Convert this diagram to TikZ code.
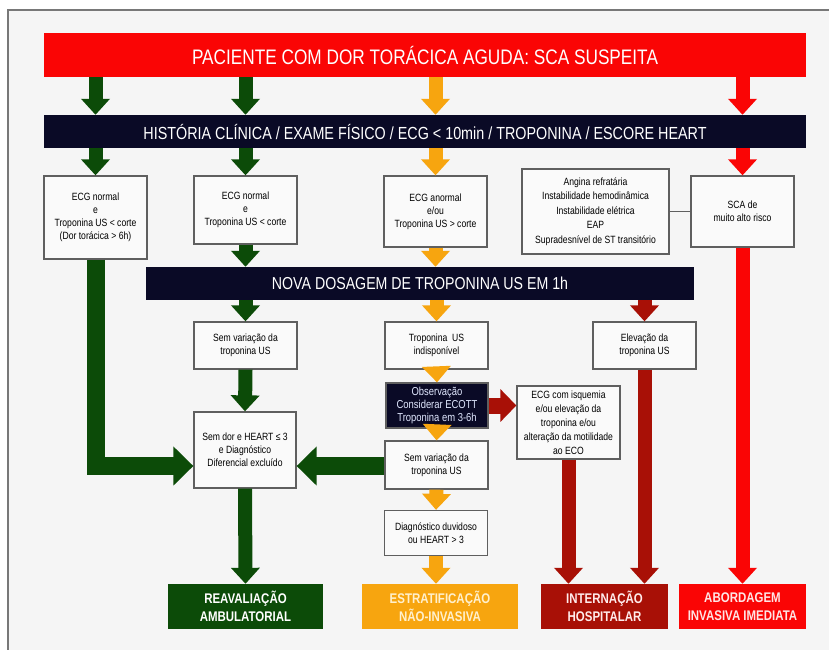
\documentclass[tikz,border=0pt]{standalone}
\usepackage{fontspec}
\setmainfont{Liberation Sans}[FakeStretch=0.82]
\usetikzlibrary{arrows.meta}
\definecolor{cRed}{RGB}{250,5,5}
\definecolor{cGreen}{RGB}{12,75,8}
\definecolor{cOrange}{RGB}{247,165,15}
\definecolor{cDRed}{RGB}{168,16,6}
\definecolor{cNavy}{RGB}{10,10,38}
\definecolor{cBg}{RGB}{245,245,245}
\definecolor{cFrame}{RGB}{120,120,120}
\definecolor{cBorder}{RGB}{95,95,95}
\definecolor{cBoxFill}{RGB}{250,250,250}
\definecolor{cCream}{RGB}{255,240,205}
\definecolor{cLightBlue}{RGB}{225,232,255}
\tikzset{
  box/.style={draw=cBorder, line width=1.3pt, fill=cBoxFill, inner sep=0pt, align=center,
    font=\fontsize{10.5}{13}\selectfont, text=black},
  bar/.style={inner sep=0pt, align=center, text=white},
  endbox/.style={inner sep=0pt, align=center, font=\fontsize{14}{18}\selectfont\bfseries},
  arr/.style={line width=14pt, -{Triangle[width=28pt,length=16pt]}},
  bigarr/.style={line width=18pt, -{Triangle[width=38pt,length=20pt]}},
}
\begin{document}
\begin{tikzpicture}[x=1pt,y=-1pt]
\useasboundingbox (0,0) rectangle (829,649);
\fill[white] (0,0) rectangle (829,649);
\draw[cFrame, line width=1.3pt, fill=cBg] (8,10) rectangle (850,670);

% bars
\node[bar, fill=cRed, minimum width=762pt, minimum height=44pt, font=\fontsize{21}{24}\selectfont] (title) at (425,55) {PACIENTE COM DOR TORÁCICA AGUDA: SCA SUSPEITA};
\node[bar, fill=cNavy, minimum width=762pt, minimum height=33pt, font=\fontsize{17.5}{20}\selectfont] (hist) at (425,131.5) {HISTÓRIA CLÍNICA / EXAME FÍSICO / ECG < 10min / TROPONINA / ESCORE HEART};

% first row of boxes
\node[box, minimum width=103pt, minimum height=83pt] (b1) at (95.5,217.5) {ECG normal\\e\\Troponina US < corte\\(Dor torácica > 6h)};
\node[box, minimum width=103pt, minimum height=68pt] (b2) at (245.5,210) {ECG normal\\e\\Troponina US < corte};
\node[box, minimum width=103pt, minimum height=71pt] (b3) at (435.5,211.5) {ECG anormal\\e/ou\\Troponina US > corte};
\node[box, minimum width=147pt, minimum height=85pt, font=\fontsize{10.5}{14.5}\selectfont] (b4) at (595.5,211.5) {Angina refratária\\Instabilidade hemodinâmica\\Instabilidade elétrica\\EAP\\Supradesnível de ST transitório};
\node[box, minimum width=103pt, minimum height=71pt] (b5) at (742.5,211.5) {SCA de\\muito alto risco};
\draw[cBorder, line width=1.2pt] (b4.east) -- (b5.west);

\node[bar, fill=cNavy, minimum width=548pt, minimum height=33pt, font=\fontsize{17.3}{20}\selectfont] (nova) at (420,283.5) {NOVA DOSAGEM DE TROPONINA US EM 1h};

% second level
\node[box, minimum width=103pt, minimum height=47pt] (s1) at (245.5,345.5) {Sem variação da\\troponina US};
\node[box, minimum width=103pt, minimum height=47pt] (tind) at (436.5,345.5) {Troponina\ \ US\\indisponível};
\node[box, minimum width=103pt, minimum height=47pt] (elev) at (644.5,345.5) {Elevação da\\troponina US};
\node[box, fill=cNavy, text=cLightBlue, minimum width=102pt, minimum height=45pt, font=\fontsize{11.5}{13}\selectfont] (obs) at (437,405.5) {Observação\\Considerar ECOTT\\Troponina em 3-6h};
\node[box, minimum width=103pt, minimum height=73pt, font=\fontsize{10.5}{14}\selectfont] (isq) at (568.5,422.5) {ECG com isquemia\\e/ou elevação da\\troponina e/ou\\alteração da motilidade\\ao ECO};
\node[box, minimum width=102pt, minimum height=76pt] (semdor) at (245,450) {Sem dor e HEART ≤ 3\\e Diagnóstico\\Diferencial excluído};
\node[box, minimum width=103pt, minimum height=48pt] (s2) at (436.5,465) {Sem variação da\\troponina US};
\node[box, minimum width=103pt, minimum height=45pt] (diag) at (436,533) {Diagnóstico duvidoso\\ou HEART > 3};

% end boxes
\node[endbox, fill=cGreen, text=white, minimum width=155pt, minimum height=45pt] (reav) at (245.5,606.5) {REAVALIAÇÃO\\AMBULATORIAL};
\node[endbox, fill=cOrange, text=cCream, minimum width=156pt, minimum height=45pt] (estr) at (440,606.5) {ESTRATIFICAÇÃO\\NÃO-INVASIVA};
\node[endbox, fill=cDRed, text=white!92!red, minimum width=127pt, minimum height=45pt] (intern) at (604.5,606.5) {INTERNAÇÃO\\HOSPITALAR};
\node[endbox, fill=cRed, text=white!90!red, minimum width=127pt, minimum height=45pt] (abord) at (742.5,606.5) {ABORDAGEM\\INVASIVA IMEDIATA};

% arrows title -> hist
\draw[arr, cGreen] (title.south -| b1.north) -- (hist.north -| b1.north);
\draw[arr, cGreen] (title.south -| b2.north) -- (hist.north -| b2.north);
\draw[arr, cOrange] (title.south -| b3.north) -- (hist.north -| b3.north);
\draw[arr, cRed] (title.south -| b5.north) -- (hist.north -| b5.north);
% hist -> boxes
\draw[arr, cGreen] (hist.south -| b1.north) -- (b1.north);
\draw[arr, cGreen] (hist.south -| b2.north) -- (b2.north);
\draw[arr, cOrange] (hist.south -| b3.north) -- (b3.north);
\draw[arr, cRed] (hist.south -| b5.north) -- (b5.north);
% boxes -> nova
\draw[arr, cGreen] (b2.south) -- (nova.north -| b2.south);
\draw[arr, cOrange] (b3.south) -- (nova.north -| b3.south);
% nova -> second row
\draw[arr, cGreen] (nova.south -| s1.north) -- (s1.north);
\draw[arr, cOrange] (nova.south -| tind.north) -- (tind.north);
\draw[arr, cDRed] (nova.south -| elev.north) -- (elev.north);
% long lines
\coordinate (jn) at (semdor.west |- 0,466);
\draw[bigarr, cGreen] (b1.south) |- (jn);
\draw[arr, cRed] (b5.south) -- (abord.north);
\draw[arr, cDRed] (elev.south) -- (intern.north -| elev.south);
\draw[arr, cDRed] (isq.south) -- (intern.north -| isq.south);
% middle chain
\draw[arr, cGreen] (s1.south) -- (semdor.north);
\draw[arr, cOrange] (tind.south) -- (obs.north);
\draw[line width=16pt, -{Triangle[width=32pt,length=16pt]}, cDRed] (obs.east) -- (obs.east -| isq.west);
\draw[arr, cOrange] (obs.south) -- (s2.north);
\draw[bigarr, cGreen] (s2.west |- jn) -- (semdor.east |- jn);
\draw[arr, cOrange] (s2.south) -- (diag.north);
\draw[arr, cOrange] (diag.south) -- (estr.north -| diag.south);
\draw[arr, cGreen] (semdor.south) -- (reav.north);
\end{tikzpicture}
\end{document}
